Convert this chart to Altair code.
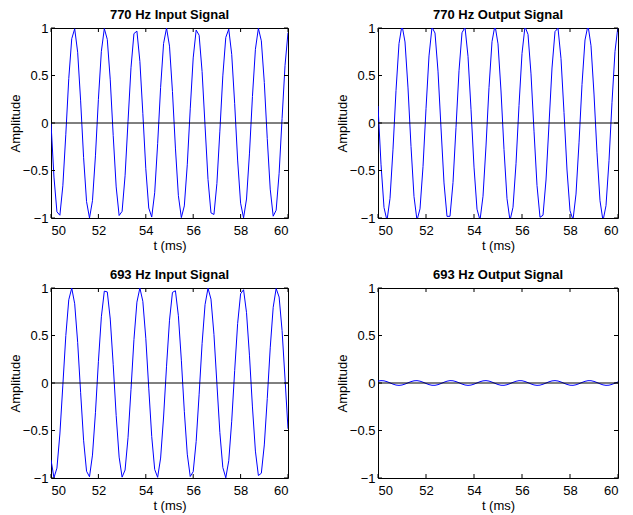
import altair as alt
import pandas as pd

# sample times (ms), 8 kHz sampling between 50 and 60 ms
t_ms = [round(50 + 0.125 * i, 3) for i in range(81)]

x_ticks = [50, 52, 54, 56, 58, 60]
y_ticks = [-1, -0.5, 0, 0.5, 1]

titles = ["770 Hz Input Signal", "770 Hz Output Signal",
          "693 Hz Input Signal", "693 Hz Output Signal"]

in770 = [0.000, -0.569, -0.935, -0.971, -0.661, -0.118, 0.468, 0.887, 0.992, 0.745,
         0.233, -0.361, -0.827, -1.000, -0.818, -0.346, 0.249, 0.755, 0.994, 0.880,
         0.454, -0.133, -0.673, -0.974, -0.930, -0.556, 0.016, 0.581, 0.941, 0.967,
         0.649, 0.102, -0.482, -0.895, -0.990, -0.734, -0.218, 0.375, 0.836, 1.000,
         0.809, 0.331, -0.264, -0.765, -0.996, -0.873, -0.440, 0.149, 0.685, 0.978,
         0.924, 0.542, -0.031, -0.594, -0.946, -0.963, -0.637, -0.086, 0.496, 0.901,
         0.988, 0.723, 0.203, -0.390, -0.844, -0.999, -0.800, -0.317, 0.279, 0.776,
         0.997, 0.865, 0.426, -0.164, -0.696, -0.981, -0.918, -0.529, 0.047, 0.607,
         0.951]

out770 = [0.179, -0.434, -0.890, -1.027, -0.794, -0.275, 0.342, 0.836, 1.030, 0.853,
          0.369, -0.247, -0.775, -1.024, -0.904, -0.460, 0.150, 0.706, 1.008, 0.947,
          0.546, -0.052, -0.631, -0.983, -0.982, -0.627, -0.047, 0.550, 0.950, 1.007,
          0.702, 0.145, -0.464, -0.907, -1.023, -0.771, -0.242, 0.374, 0.856, 1.030,
          0.833, 0.337, -0.280, -0.797, -1.027, -0.887, -0.429, 0.184, 0.731, 1.015,
          0.933, 0.517, -0.086, -0.658, -0.993, -0.971, -0.600, -0.013, 0.579, 0.962,
          0.999, 0.677, 0.111, -0.495, -0.923, -1.019, -0.748, -0.209, 0.406, 0.874,
          1.029, 0.813, 0.305, -0.313, -0.818, -1.029, -0.870, -0.397, 0.218, 0.754,
          1.020]

in693 = [-0.809, -0.997, -0.896, -0.537, -0.022, 0.499, 0.876, 0.999, 0.834, 0.428,
         -0.102, -0.602, -0.929, -0.987, -0.759, -0.313, 0.224, 0.697, 0.967, 0.959,
         0.673, 0.193, -0.343, -0.780, -0.991, -0.916, -0.576, -0.070, 0.457, 0.851,
         1.000, 0.860, 0.471, -0.054, -0.563, -0.910, -0.993, -0.790, -0.358, 0.177,
         0.661, 0.954, 0.971, 0.708, 0.240, -0.298, -0.749, -0.984, -0.934, -0.615,
         -0.118, 0.414, 0.825, 0.998, 0.883, 0.512, -0.006, -0.523, -0.889, -0.998,
         -0.818, -0.402, 0.130, 0.625, 0.939, 0.982, 0.740, 0.286, -0.252, -0.717,
         -0.974, -0.950, -0.652, -0.165, 0.370, 0.797, 0.995, 0.905, 0.553, 0.042,
         -0.482]

out693 = [0.0199, 0.0249, 0.0227, 0.0139, 0.0012, -0.0119, -0.0216, -0.0250, -0.0212, -0.0112,
          0.0019, 0.0146, 0.0230, 0.0248, 0.0194, 0.0084, -0.0050, -0.0170, -0.0240, -0.0241,
          -0.0173, -0.0054, 0.0080, 0.0191, 0.0247, 0.0231, 0.0149, 0.0024, -0.0109, -0.0210,
          -0.0250, -0.0218, -0.0123, 0.0007, 0.0136, 0.0225, 0.0249, 0.0201, 0.0095, -0.0038,
          -0.0161, -0.0237, -0.0244, -0.0181, -0.0066, 0.0069, 0.0183, 0.0245, 0.0236, 0.0158,
          0.0035, -0.0098, -0.0203, -0.0249, -0.0224, -0.0133, -0.0005, 0.0126, 0.0219, 0.0250,
          0.0208, 0.0106, -0.0026, -0.0151, -0.0233, -0.0246, -0.0189, -0.0077, 0.0057, 0.0175,
          0.0242, 0.0239, 0.0168, 0.0047, -0.0087, -0.0196, -0.0248, -0.0229, -0.0143, -0.0017,
          0.0115]

W_LEFT, W_RIGHT, H = 237, 240, 190
FONT = "Liberation Sans"
TICK = 4


def panel(title, values, w, h=H):
    df = pd.DataFrame({"t": t_ms, "amp": values})
    xs = alt.Scale(domain=[50, 60], nice=False, zero=False)
    ys = alt.Scale(domain=[-1, 1], nice=False)
    xa = alt.Axis(values=x_ticks, format="d", title="t (ms)", labelPadding=6, titlePadding=2)
    ya = alt.Axis(values=y_ticks, format="~g", title="Amplitude", labelPadding=3, titlePadding=0)
    line = alt.Chart(df).mark_line(color="#0000ff", strokeWidth=1, clip=True).encode(
        x=alt.X("t:Q", scale=xs, axis=xa),
        y=alt.Y("amp:Q", scale=ys, axis=ya),
    )
    zero = alt.Chart(pd.DataFrame({"amp": [0]})).mark_rule(color="black", strokeWidth=1).encode(
        y=alt.Y("amp:Q", scale=ys, axis=ya), x=alt.value(0), x2=alt.value(w))
    xt = pd.DataFrame({"t": x_ticks})
    yt = pd.DataFrame({"amp": y_ticks})
    bx = alt.Chart(xt).mark_rule(color="black", strokeWidth=1).encode(
        x=alt.X("t:Q", scale=xs, axis=xa), y=alt.value(h), y2=alt.value(h - TICK))
    tx = alt.Chart(xt).mark_rule(color="black", strokeWidth=1).encode(
        x=alt.X("t:Q", scale=xs, axis=xa), y=alt.value(0), y2=alt.value(TICK))
    ly = alt.Chart(yt).mark_rule(color="black", strokeWidth=1).encode(
        y=alt.Y("amp:Q", scale=ys, axis=ya), x=alt.value(0), x2=alt.value(TICK))
    ry = alt.Chart(yt).mark_rule(color="black", strokeWidth=1).encode(
        y=alt.Y("amp:Q", scale=ys, axis=ya), x=alt.value(w), x2=alt.value(w - TICK))
    return alt.layer(line, zero, bx, tx, ly, ry).properties(
        width=w, height=h,
        title=alt.TitleParams(title, fontSize=13, fontWeight="bold", font=FONT,
                              offset=0, frame="group", anchor="middle", color="black"),
    )


panels = [panel(titles[0], in770, W_LEFT), panel(titles[1], out770, W_RIGHT),
          panel(titles[2], in693, W_LEFT), panel(titles[3], out693, W_RIGHT)]

chart = alt.vconcat(
    alt.hconcat(panels[0], panels[1], spacing=46),
    alt.hconcat(panels[2], panels[3], spacing=46),
    spacing=15,
).properties(padding=0, background="white").configure_view(
    stroke="black", strokeWidth=1
).configure_axis(
    grid=False, domain=False, ticks=False,
    labelFont=FONT, titleFont=FONT, labelFontSize=13, titleFontSize=13,
    titleFontWeight="normal", labelColor="black", titleColor="black",
)

chart.save("out.html", embed_options={"renderer": "svg", "actions": False})
